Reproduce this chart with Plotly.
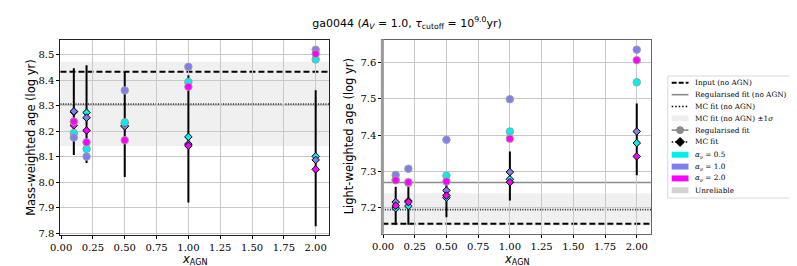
import plotly.graph_objects as go

# ---------------- data ----------------
x_agn = [0.1, 0.2, 0.5, 1.0, 2.0]

# Mass-weighted age (log yr)
reg_mw_a05 = [8.193, 8.131, 8.235, 8.393, 8.481]
reg_mw_a10 = [8.176, 8.101, 8.360, 8.452, 8.519]
reg_mw_a20 = [8.238, 8.157, 8.165, 8.374, 8.503]
mc_mw_a05 = [8.276, 8.273, 8.222, 8.178, 8.102]
mc_mw_a10 = [8.278, 8.253, 8.219, 8.150, 8.088]
mc_mw_a20 = [8.223, 8.203, 8.232, 8.143, 8.051]
mc_mw_lo = [8.107, 8.076, 8.021, 7.921, 7.828]
mc_mw_hi = [8.447, 8.458, 8.435, 8.419, 8.361]
mw_input = 8.433
mw_reg_noagn = 8.302
mw_mc_noagn = 8.307
mw_mc_noagn_sig = 0.165

# Light-weighted age (log yr)
reg_lw_a05 = [7.277, 7.268, 7.288, 7.410, 7.546]
reg_lw_a10 = [7.290, 7.307, 7.387, 7.499, 7.636]
reg_lw_a20 = [7.275, 7.270, 7.272, 7.390, 7.607]
mc_lw_a05 = [7.198, 7.204, 7.227, 7.278, 7.378]
mc_lw_a10 = [7.215, 7.218, 7.247, 7.298, 7.410]
mc_lw_a20 = [7.205, 7.215, 7.233, 7.270, 7.341]
mc_lw_lo = [7.152, 7.152, 7.173, 7.219, 7.289]
mc_lw_hi = [7.257, 7.265, 7.273, 7.355, 7.487]
lw_input = 7.155
lw_reg_noagn = 7.269
lw_mc_noagn = 7.194
lw_mc_noagn_sig = 0.045

alpha_labels = ["0.5", "1.0", "2.0"]
colors = ["#00f0f0", "#7f7fef", "#ff00ff"]

W, H = 797, 266


def px(x):
    return x / W


def py(y):
    return 1 - y / H


fig = go.Figure()

panels = [
    dict(xa="x", ya="y", reg=[reg_mw_a05, reg_mw_a10, reg_mw_a20],
         mc=[mc_mw_a05, mc_mw_a10, mc_mw_a20], lo=mc_mw_lo, hi=mc_mw_hi,
         inp=mw_input, regn=mw_reg_noagn, mcn=mw_mc_noagn, sig=mw_mc_noagn_sig),
    dict(xa="x2", ya="y2", reg=[reg_lw_a05, reg_lw_a10, reg_lw_a20],
         mc=[mc_lw_a05, mc_lw_a10, mc_lw_a20], lo=mc_lw_lo, hi=mc_lw_hi,
         inp=lw_input, regn=lw_reg_noagn, mcn=lw_mc_noagn, sig=lw_mc_noagn_sig),
]

shapes = []
for p in panels:
    xd = p["xa"] + " domain"
    # +-1 sigma band
    shapes.append(dict(type="rect", xref=xd, yref=p["ya"], x0=0, x1=1,
                       y0=p["mcn"] - p["sig"], y1=p["mcn"] + p["sig"],
                       fillcolor="#f0f0f0", line=dict(width=0), layer="below"))
    shapes.append(dict(type="line", xref=xd, yref=p["ya"], x0=0, x1=1,
                       y0=p["regn"], y1=p["regn"],
                       line=dict(color="#8a8a8a", width=1.6), layer="below"))
    shapes.append(dict(type="line", xref=xd, yref=p["ya"], x0=0, x1=1,
                       y0=p["mcn"], y1=p["mcn"],
                       line=dict(color="#222222", width=1.6, dash="1px,1.5px"), layer="below"))
    shapes.append(dict(type="line", xref=xd, yref=p["ya"], x0=0, x1=1,
                       y0=p["inp"], y1=p["inp"],
                       line=dict(color="black", width=2, dash="6px,3px"), layer="below"))

    # error bars (MC fit)
    ex, ey = [], []
    for xv, lo, hi in zip(x_agn, p["lo"], p["hi"]):
        ex += [xv, xv, None]
        ey += [lo, hi, None]
    fig.add_trace(go.Scatter(x=ex, y=ey, mode="lines", xaxis=p["xa"], yaxis=p["ya"],
                             line=dict(color="black", width=2), showlegend=False,
                             hoverinfo="skip"))
    # MC fit diamonds
    for vals, c in zip(p["mc"], colors):
        fig.add_trace(go.Scatter(x=x_agn, y=vals, mode="markers", xaxis=p["xa"], yaxis=p["ya"],
                                 marker=dict(symbol="diamond", size=5.8, color=c,
                                             line=dict(color="black", width=1)),
                                 showlegend=False))
    # Regularised fit circles
    for vals, c in zip(p["reg"], colors):
        fig.add_trace(go.Scatter(x=x_agn, y=vals, mode="markers", xaxis=p["xa"], yaxis=p["ya"],
                                 marker=dict(symbol="circle", size=7.5, color=c,
                                             line=dict(color="#a0a0a0", width=1)),
                                 showlegend=False))

# thick grey left edge on right panel
shapes.append(dict(type="line", xref="x2 domain", yref="y2 domain", x0=0, x1=0, y0=0, y1=1,
                   line=dict(color="#9a9a9a", width=3), layer="above"))

# ---------------- manual legend ----------------
LX0, LX1 = 662, 679
TX = 684
rows = [76, 88, 100, 112, 124, 136, 149, 161, 173, 185]
shapes.append(dict(type="rect", xref="paper", yref="paper", x0=px(658), x1=px(805),
                   y0=py(69), y1=py(193), fillcolor="white",
                   line=dict(color="#d8d8d8", width=1), layer="above"))


def hline(y, **line):
    shapes.append(dict(type="line", xref="paper", yref="paper", x0=px(LX0), x1=px(LX1),
                       y0=py(y), y1=py(y), line=line, layer="above"))


def patch(y, col):
    shapes.append(dict(type="rect", xref="paper", yref="paper", x0=px(LX0), x1=px(LX1),
                       y0=py(y - 3), y1=py(y + 3), fillcolor=col,
                       line=dict(width=0), layer="above"))


hline(rows[0], color="black", width=2, dash="5px,2px")
hline(rows[1], color="#8a8a8a", width=1.6)
hline(rows[2], color="black", width=1.5, dash="1.5px,2px")
patch(rows[3], "#eeeeee")
hline(rows[4], color="#8a8a8a", width=1.6)
cx = (LX0 + LX1) / 2
shapes.append(dict(type="circle", xref="paper", yref="paper", x0=px(cx - 3.5), x1=px(cx + 3.5),
                   y0=py(rows[4] + 3.5), y1=py(rows[4] - 3.5), fillcolor="#8a8a8a",
                   line=dict(color="#8a8a8a", width=1), layer="above"))
hline(rows[5], color="black", width=1.5, dash="1.5px,2px")
r5 = rows[5]
shapes.append(dict(type="path", xref="paper", yref="paper",
                   path=f"M {px(cx)},{py(r5 - 4.5)} L {px(cx + 4.5)},{py(r5)} L {px(cx)},{py(r5 + 4.5)} L {px(cx - 4.5)},{py(r5)} Z",
                   fillcolor="black", line=dict(color="black", width=1), layer="above"))
patch(rows[6], colors[0])
patch(rows[7], colors[1])
patch(rows[8], colors[2])
patch(rows[9], "#d3d3d3")

leg_texts = ["Input (no AGN)", "Regularised fit (no AGN)", "MC fit (no AGN)",
             "MC fit (no AGN) ±1<i>σ</i>", "Regularised fit", "MC fit"] + \
            [f"<i>α</i><sub><i>ν</i></sub> = {a}" for a in alpha_labels] + ["Unreliable"]

annotations = []
for t, r in zip(leg_texts, rows):
    annotations.append(dict(text=t, xref="paper", yref="paper", x=px(TX), y=py(r),
                            xanchor="left", yanchor="middle", showarrow=False,
                            font=dict(family="DejaVu Serif", size=7.3, color="black")))

# axis titles
title_font = dict(family="DejaVu Sans", size=11.5, color="black")
annotations += [
    dict(text="<i>x</i><sub>AGN</sub>", xref="x domain", yref="paper", x=0.5, y=py(255),
         xanchor="center", yanchor="middle", showarrow=False, font=title_font),
    dict(text="<i>x</i><sub>AGN</sub>", xref="x2 domain", yref="paper", x=0.5, y=py(255),
         xanchor="center", yanchor="middle", showarrow=False, font=title_font),
    dict(text="Mass-weighted age (log yr)", xref="paper", yref="y domain", x=px(13), y=0.5,
         xanchor="center", yanchor="middle", textangle=-90, showarrow=False, font=title_font),
    dict(text="Light-weighted age (log yr)", xref="paper", yref="y2 domain", x=px(335), y=0.5,
         xanchor="center", yanchor="middle", textangle=-90, showarrow=False, font=title_font),
]

axis_common = dict(showgrid=True, gridcolor="#c8c8c8", gridwidth=1, ticks="outside",
                   ticklen=3, tickcolor="black", showline=True, mirror=True,
                   zeroline=False, tickfont=dict(family="DejaVu Serif", size=10, color="black"))

fig.update_layout(
    width=W, height=H,
    margin=dict(l=0, r=0, t=0, b=0),
    paper_bgcolor="white", plot_bgcolor="white",
    showlegend=False,
    title=dict(text="ga0044 (<i>A</i><sub><i>V</i></sub> = 1.0, <i>τ</i><sub>cutoff</sub> = 10<sup>9.0</sup>yr)",
               x=px(399), y=py(15), xanchor="center", yanchor="middle",
               font=dict(family="DejaVu Sans", size=11, color="black")),
    xaxis=dict(domain=[px(43), px(315)], range=[-0.005, 2.105], dtick=0.25, tick0=0,
               tickformat=".2f", anchor="y", linecolor="#222222", linewidth=1.2,
               **axis_common),
    yaxis=dict(domain=[py(230), py(32)], range=[7.796, 8.559], dtick=0.1, tick0=0,
               tickformat=".1f", anchor="x", linecolor="#222222", linewidth=1.2,
               **axis_common),
    xaxis2=dict(domain=[px(369), px(641)], range=[-0.005, 2.112], dtick=0.25, tick0=0,
                tickformat=".2f", anchor="y2", linecolor="#666666", linewidth=1,
                **axis_common),
    yaxis2=dict(domain=[py(229), py(32)], range=[7.128, 7.664], dtick=0.1, tick0=0,
                tickformat=".1f", anchor="x2", linecolor="#666666", linewidth=1,
                **axis_common),
    shapes=shapes,
    annotations=annotations,
)

fig.write_html("out.html")
